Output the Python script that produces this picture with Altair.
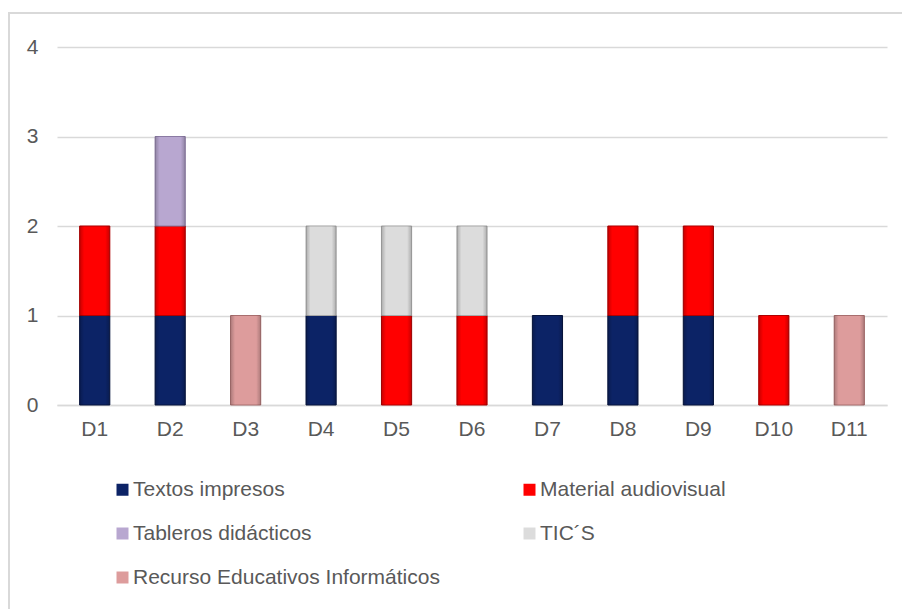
import altair as alt
import pandas as pd

# Categories, series and values (count of resources per teacher)
docentes = ["D1", "D2", "D3", "D4", "D5", "D6", "D7", "D8", "D9", "D10", "D11"]
series = [
    "Textos impresos",
    "Material audiovisual",
    "Tableros didácticos",
    "TIC´S",
    "Recurso Educativos Informáticos",
]
textos_impresos = [1, 1, 0, 1, 0, 0, 1, 1, 1, 0, 0]
material_audiovisual = [1, 1, 0, 0, 1, 1, 0, 1, 1, 1, 0]
tableros_didacticos = [0, 1, 0, 0, 0, 0, 0, 0, 0, 0, 0]
tics = [0, 0, 0, 1, 1, 1, 0, 0, 0, 0, 0]
recursos_informaticos = [0, 0, 1, 0, 0, 0, 0, 0, 0, 0, 1]

fill_colors = ["#0c2366", "#ff0000", "#b8a7d0", "#dcdcdc", "#dd9c9c"]
edge_colors = ["#06143f", "#b00000", "#8a7aa3", "#a8a8a8", "#a86e6e"]

values_by_series = [
    textos_impresos,
    material_audiovisual,
    tableros_didacticos,
    tics,
    recursos_informaticos,
]

rows = []
for order, (name, vals) in enumerate(zip(series, values_by_series)):
    for doc, v in zip(docentes, vals):
        if v:
            rows.append({"docente": doc, "serie": name, "valor": v, "orden": order})
df = pd.DataFrame(rows)

font = "Liberation Sans"
text_color = "#595959"

x_enc = alt.X(
    "docente:N",
    sort=docentes,
    scale=alt.Scale(paddingInner=0.6, paddingOuter=0.3),
    axis=alt.Axis(
        title=None,
        labelAngle=0,
        labelFontSize=21,
        labelPadding=13,
        ticks=False,
        domainColor="#d9d9d9",
        domainWidth=1.5,
    ),
)
y_enc = alt.Y(
    "valor:Q",
    stack="zero",
    scale=alt.Scale(domain=[0, 4], nice=False),
    axis=alt.Axis(
        title=None,
        values=[0, 1, 2, 3, 4],
        labelFontSize=21,
        labelPadding=19,
        ticks=False,
        domain=False,
        gridColor="#d9d9d9",
        gridWidth=1.5,
    ),
)

bars = (
    alt.Chart(df)
    .mark_bar(strokeWidth=1)
    .encode(
        x=x_enc,
        y=y_enc,
        color=alt.Color(
            "serie:N",
            scale=alt.Scale(domain=series, range=fill_colors),
            legend=alt.Legend(
                title=None,
                orient="none",
                direction="horizontal",
                legendX=55,
                legendY=432,
                columns=2,
                columnPadding=79,
                rowPadding=22,
                symbolType="square",
                symbolSize=144,
                symbolStrokeWidth=0,
                symbolOpacity=1,
                labelFontSize=21,
                labelOffset=0,
                labelLimit=400,
            ),
        ),
        stroke=alt.Stroke(
            "serie:N",
            scale=alt.Scale(domain=series, range=edge_colors),
            legend=None,
        ),
        order=alt.Order("orden:Q"),
    )
)

# Soft shading across each segment for a bevelled look
shade = (
    alt.Chart(df)
    .mark_bar(
        color=alt.Gradient(
            gradient="linear",
            x1=0,
            x2=1,
            y1=0,
            y2=0,
            stops=[
                alt.GradientStop(offset=0, color="rgba(0,0,0,0.22)"),
                alt.GradientStop(offset=0.15, color="rgba(0,0,0,0.0)"),
                alt.GradientStop(offset=0.85, color="rgba(0,0,0,0.0)"),
                alt.GradientStop(offset=1, color="rgba(0,0,0,0.22)"),
            ],
        )
    )
    .encode(x=x_enc, y=y_enc, order=alt.Order("orden:Q"))
)

# Light frame around the whole figure
frame = (
    alt.Chart(alt.Data(values=[{}]))
    .mark_rect(fill=None, stroke="#d9d9d9", strokeWidth=2)
    .encode(
        x=alt.value(-48),
        x2=alt.value(870),
        y=alt.value(-34),
        y2=alt.value(600),
    )
)

chart = (
    alt.layer(frame, bars, shade)
    .properties(
        width=830,
        height=358,
        autosize=alt.AutoSizeParams(type="none"),
        padding={"left": 57, "top": 47, "right": 15, "bottom": 204},
    )
    .configure(font=font, background="white")
    .configure_view(stroke=None)
    .configure_axis(labelColor=text_color, labelFont=font)
    .configure_legend(labelColor=text_color, labelFont=font)
)

chart.save("out.html", embed_options={"renderer": "svg", "actions": False})
